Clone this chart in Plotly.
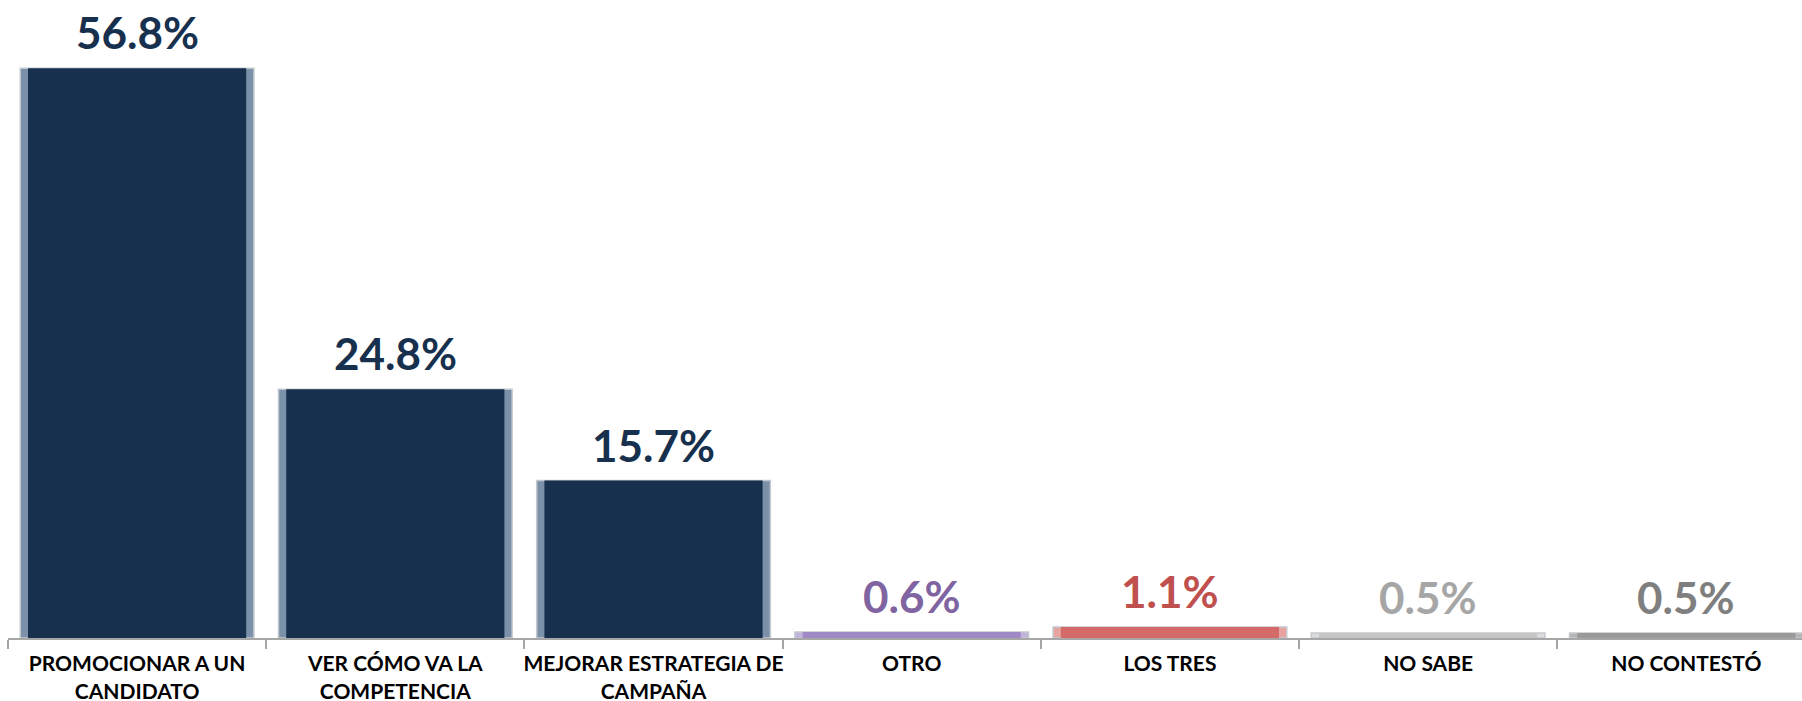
import plotly.graph_objects as go

categories = [
    "PROMOCIONAR A UN<br>CANDIDATO",
    "VER CÓMO VA LA<br>COMPETENCIA",
    "MEJORAR ESTRATEGIA DE<br>CAMPAÑA",
    "OTRO",
    "LOS TRES",
    "NO SABE",
    "NO CONTESTÓ",
]
values = [56.8, 24.8, 15.7, 0.6, 1.1, 0.5, 0.5]

bar_colors = ["#16304D", "#16304D", "#16304D", "#A08AC6", "#D46B69", "#C6C6C6", "#9A9A9A"]
bevel_colors = ["#7A91A9", "#7A91A9", "#7A91A9", "#C2B3DD", "#E8A3A1", "#DCDCDC", "#B5B5B5"]
label_colors = ["#16304D", "#16304D", "#16304D", "#8064A2", "#C0504D", "#A6A6A6", "#7F7F7F"]

FONT = "Lato"

fig = go.Figure()
fig.add_trace(go.Bar(
    x=categories, y=values, width=0.905,
    marker=dict(color=bevel_colors, line=dict(color="#C3C8CE", width=1.5)),
    hoverinfo="skip", showlegend=False,
))
fig.add_trace(go.Bar(
    x=categories, y=values, width=0.845,
    marker=dict(color=bar_colors, line=dict(width=0)),
    showlegend=False,
))

for cat, v, c in zip(categories, values, label_colors):
    fig.add_annotation(
        x=cat, y=v, text=f"{v:.1f}%", showarrow=False,
        yanchor="bottom", yshift=8,
        font=dict(family=FONT, size=44, color=c, weight="bold"),
    )

fig.update_layout(
    width=1802, height=701,
    margin=dict(l=8, r=0, t=0, b=63, autoexpand=False),
    barmode="overlay",
    plot_bgcolor="white", paper_bgcolor="white",
    xaxis=dict(
        type="category", range=[-0.5, 6.448],
        tickson="boundaries", ticks="outside", ticklen=9,
        tickcolor="#A6A6A6", tickwidth=1.5,
        showline=True, linecolor="#A6A6A6", linewidth=2,
        showgrid=False, ticklabelstandoff=6, tickangle=0, automargin=False,
        tickfont=dict(family=FONT, size=21, color="#000000", weight="bold"),
    ),
    yaxis=dict(visible=False, range=[0, 63.6]),
)

fig.write_html("out.html", post_script="document.body.style.margin='0';",
               config={"displayModeBar": False})
